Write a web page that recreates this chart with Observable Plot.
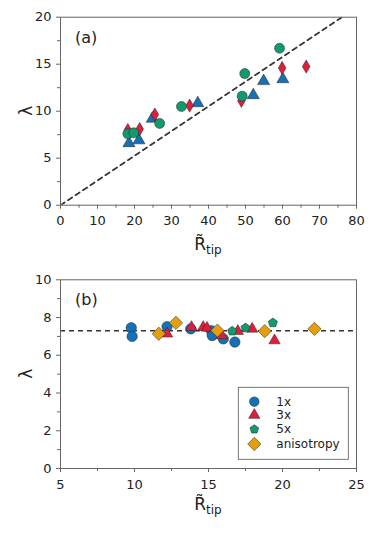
<!DOCTYPE html>
<html><head><meta charset="utf-8">
<script src="https://cdn.jsdelivr.net/npm/d3@7"></script>
<script src="https://cdn.jsdelivr.net/npm/@observablehq/plot@0.6"></script>
<style>body{margin:0;background:#fff;} svg{display:block;}</style>
</head><body><div id="chart"></div>
<script>
// ---------- Panel (a) data ----------
const aBlueX  = [18.5, 21.2, 24.8, 37.1, 52.1, 54.9, 60.1];
const aBlueY  = [6.6, 6.9, 9.2, 10.85, 11.7, 13.2, 13.4];
const aRedX   = [18.2, 21.4, 25.5, 34.9, 48.9, 59.9, 66.4];
const aRedY   = [8.0, 8.1, 9.65, 10.6, 11.1, 14.6, 14.75];
const aGreenX = [18.2, 19.8, 26.8, 32.7, 49.1, 49.8, 59.2];
const aGreenY = [7.6, 7.7, 8.7, 10.5, 11.6, 14.0, 16.7];
const aFitSlope = 0.263;
const aXTicks = [0, 10, 20, 30, 40, 50, 60, 70, 80];
const aYTicks = [0, 5, 10, 15, 20];

// ---------- Panel (b) data ----------
const b1xX = [9.78, 9.84, 12.2, 13.8, 15.2, 15.25, 16.0, 16.78];
const b1xY = [7.46, 7.0, 7.52, 7.4, 7.3, 7.05, 6.87, 6.7];
const b3xX = [12.2, 13.85, 14.64, 14.9, 15.9, 16.98, 17.95, 19.46];
const b3xY = [7.14, 7.49, 7.49, 7.45, 7.05, 7.28, 7.4, 6.78];
const b5xX = [16.6, 17.5, 19.35];
const b5xY = [7.28, 7.45, 7.72];
const bAnX = [11.64, 12.8, 15.6, 18.8, 22.16];
const bAnY = [7.14, 7.72, 7.31, 7.28, 7.4];
const bLambda = 7.3;
const bXTicks = [5, 10, 15, 20, 25];
const bYTicks = [0, 2, 4, 6, 8, 10];
const legendLabels = ["1x", "3x", "5x", "anisotropy"];

const BLUE = "#1670b6", RED = "#e11d3c", GREEN = "#119a6e", ORANGE = "#e59e0c";
const FONT = "DejaVu Sans";

const pentagon = {
  draw(context, size) {
    const R = Math.sqrt(size / Math.PI) * 1.05;
    for (let i = 0; i < 5; i++) {
      const a = -Math.PI / 2 + i * 2 * Math.PI / 5;
      const px = R * Math.cos(a), py = R * Math.sin(a);
      if (i === 0) context.moveTo(px, py); else context.lineTo(px, py);
    }
    context.closePath();
  }
};

const zip = (xs, ys) => xs.map((x, i) => ({x, y: ys[i]}));
const minor = (ticks) => ticks.slice(0, -1).map((t, i) => (t + ticks[i + 1]) / 2);

function axes(xt, yt) {
  return [
    Plot.axisX(xt, {tickSize: 4, tickPadding: 7, stroke: "#666", fill: "#222", label: null}),
    Plot.axisX(minor(xt), {tickSize: 3, tickFormat: () => "", stroke: "#666", label: null}),
    Plot.axisY(yt, {tickSize: 4, tickPadding: 5, stroke: "#666", fill: "#222", label: null}),
    Plot.axisY(minor(yt), {tickSize: 3, tickFormat: () => "", stroke: "#666", label: null}),
    Plot.frame({stroke: "#666"})
  ];
}

const common = {style: {fontFamily: FONT, fontSize: "13px", background: "white", color: "#222"}};

// ---------- Panel (a) ----------
const aX0 = aXTicks[0], aX1 = aXTicks[aXTicks.length - 1];
const plotA = Plot.plot({
  ...common,
  width: 374, height: 264,
  marginTop: 16.7, marginBottom: 59.3, marginLeft: 60, marginRight: 18,
  x: {domain: [aX0, aX1]},
  y: {domain: [aYTicks[0], aYTicks[aYTicks.length - 1]]},
  marks: [
    Plot.line([aX0, aX1].map(x => ({x, y: aFitSlope * x})), {x: "x", y: "y", stroke: "#333", strokeWidth: 1.7, strokeDasharray: "5,4", clip: true}),
    Plot.dot(zip(aBlueX, aBlueY), {x: "x", y: "y", symbol: "triangle", r: 4.5, fill: BLUE, stroke: "#222", strokeWidth: 0.5}),
    Plot.dot(zip(aRedX, aRedY), {x: "x", y: "y", symbol: "diamond", r: 4.0, fill: RED, stroke: "#222", strokeWidth: 0.5}),
    Plot.dot(zip(aGreenX, aGreenY), {x: "x", y: "y", symbol: "circle", r: 5.0, fill: GREEN, stroke: "#222", strokeWidth: 0.5}),
    ...axes(aXTicks, aYTicks)
  ]
});

// ---------- Panel (b) ----------
const plotB = Plot.plot({
  ...common,
  width: 374, height: 270,
  marginTop: 15.3, marginBottom: 66, marginLeft: 60, marginRight: 18,
  x: {domain: [bXTicks[0], bXTicks[bXTicks.length - 1]]},
  y: {domain: [bYTicks[0], bYTicks[bYTicks.length - 1]]},
  marks: [
    Plot.ruleY([bLambda], {stroke: "#333", strokeWidth: 1.7, strokeDasharray: "5,4"}),
    Plot.dot(zip(b1xX, b1xY), {x: "x", y: "y", symbol: "circle", r: 5.2, fill: BLUE, stroke: "#222", strokeWidth: 0.5}),
    Plot.dot(zip(b3xX, b3xY), {x: "x", y: "y", symbol: "triangle", r: 4.2, fill: RED, stroke: "#222", strokeWidth: 0.5}),
    Plot.dot(zip(b5xX, b5xY), {x: "x", y: "y", symbol: pentagon, r: 4.6, fill: GREEN, stroke: "#222", strokeWidth: 0.5}),
    Plot.dot(zip(bAnX, bAnY), {x: "x", y: "y", symbol: "diamond2", r: 6.0, fill: ORANGE, stroke: "#222", strokeWidth: 0.5}),
    ...axes(bXTicks, bYTicks)
  ]
});

function decorate(plot, tag, ml, mt, iw, ih, labelGap) {
  const svg = d3.select(plot);
  svg.append("text").attr("x", ml + 15).attr("y", mt + 26).attr("text-anchor", "start")
    .attr("font-family", FONT).attr("font-size", 16).attr("fill", "#222").text(tag);
  svg.append("text").attr("transform", `translate(26,${mt + ih / 2}) rotate(-90)`)
    .attr("text-anchor", "middle").attr("dy", "0.35em").attr("font-family", FONT).attr("font-size", 17).attr("fill", "#222").text("λ");
  const t = svg.append("text").attr("x", ml + iw / 2).attr("y", mt + ih + labelGap)
    .attr("text-anchor", "middle").attr("font-family", FONT).attr("fill", "#222");
  t.append("tspan").attr("font-size", 17).text("R\u0303");
  t.append("tspan").attr("font-size", 12).attr("dy", 4).text("tip");
  return svg;
}

decorate(plotA, "(a)", 60, 16.7, 296, 188, 45);
const svgB = decorate(plotB, "(b)", 60, 15.3, 296, 188.7, 42);

// legend in panel (b)
const lg = svgB.append("g").attr("transform", "translate(238.3,123.3)");
lg.append("rect").attr("width", 110).attr("height", 72).attr("fill", "white").attr("stroke", "#555").attr("stroke-width", 0.8);
const legSyms = [
  {sym: d3.symbolCircle, size: Math.PI * 4.8 * 4.8, fill: BLUE},
  {sym: d3.symbolTriangle, size: Math.PI * 4.2 * 4.2, fill: RED},
  {sym: pentagon, size: Math.PI * 4.4 * 4.4, fill: GREEN},
  {sym: d3.symbolDiamond2, size: Math.PI * 6 * 6, fill: ORANGE}
];
const rowY = [14.4, 27.8, 42, 56.7];
legSyms.forEach((s, i) => {
  lg.append("path").attr("d", d3.symbol(s.sym, s.size)()).attr("transform", `translate(16,${rowY[i]})`)
    .attr("fill", s.fill).attr("stroke", "#222").attr("stroke-width", 0.5);
  lg.append("text").attr("x", 38).attr("y", rowY[i]).attr("dy", "0.35em").attr("text-anchor", "start")
    .attr("font-family", FONT).attr("font-size", 12).attr("fill", "#222").text(legendLabels[i]);
});

document.getElementById("chart").append(plotA, plotB);
</script></body></html>
